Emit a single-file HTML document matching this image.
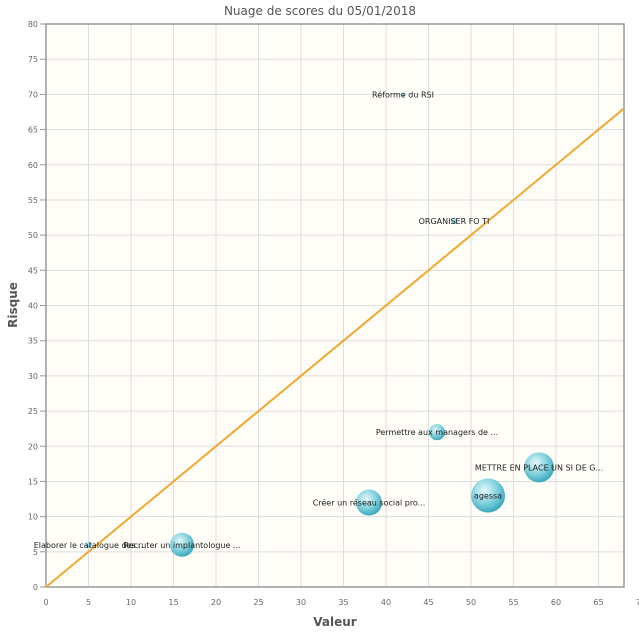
<!DOCTYPE html>
<html><head><meta charset="utf-8"><style>
body{margin:0;background:#fff;}
svg text{font-family:"DejaVu Sans","Liberation Sans",sans-serif;}
</style></head><body>
<svg width="639" height="632" id="chart">
<defs>
<radialGradient id="bub" cx="40%" cy="35%" r="65%">
<stop offset="0" stop-color="#e6f7fa"/><stop offset="0.6" stop-color="#7fd0dd"/><stop offset="1" stop-color="#3aa9bd"/>
</radialGradient>
</defs>
<text x="320" y="15" text-anchor="middle" font-size="12" fill="#555">Nuage de scores du 05/01/2018</text>
<rect x="46" y="24" width="578" height="563" fill="#fffdf8"/>
<g id="grid"></g>
<rect x="46" y="24" width="578" height="563" fill="none" stroke="#999" stroke-width="1.5"/>
<g id="marks"></g>
<text x="335" y="626" text-anchor="middle" font-size="12" font-weight="bold" fill="#555">Valeur</text>
<text transform="translate(17,305) rotate(-90)" text-anchor="middle" font-size="12" font-weight="bold" fill="#555">Risque</text>
</svg>
<script>
const labels=["Réforme du RSI","ORGANISER FO TI","Permettre aux managers de ...","METTRE EN PLACE UN SI DE G...","agessa","Créer un réseau social pro...","Recruter un implantologue ...","Elaborer le catalogue des..."];
const xVals=[42,48,46,58,52,38,16,5];
const yVals=[70,52,22,17,13,12,6,6];
const sizes=[2,3,8,15,17,13,12,3];
const xTicks=[0,5,10,15,20,25,30,35,40,45,50,55,60,65,70];
const yTicks=[0,5,10,15,20,25,30,35,40,45,50,55,60,65,70,75,80];
const lineEnd=68;
const NS="http://www.w3.org/2000/svg";
const X=v=>46+v*(578/68), Y=v=>587-v*(563/80);
function mk(t,a,p){const e=document.createElementNS(NS,t);for(const k in a)e.setAttribute(k,a[k]);p.appendChild(e);return e;}
const g=document.getElementById('grid'),m=document.getElementById('marks');
xTicks.forEach(t=>{
 if(t<=68){const l=mk('line',{x1:X(t),x2:X(t),y1:24,y2:587,stroke:'#ddd'},g);
 
 }
 const tx=mk('text',{x:X(t),y:605,'text-anchor':'middle','font-size':8,fill:'#666'},g);tx.textContent=t;
 
 
});
yTicks.forEach(t=>{
 const l=mk('line',{x1:46,x2:624,y1:Y(t),y2:Y(t),stroke:'#ddd'},g);
 
 
 mk('line',{x1:40,x2:46,y1:Y(t),y2:Y(t),stroke:'#999'},g);
 const tx=mk('text',{x:38,y:Y(t)+3,'text-anchor':'end','font-size':8,fill:'#666'},g);tx.textContent=t;
 
 
});
const ln=mk('line',{x1:X(0),y1:Y(0),x2:X(lineEnd),y2:Y(lineEnd),stroke:'#f0a830','stroke-width':2},m);


labels.forEach((lb,i)=>{
 const c=mk('circle',{cx:X(xVals[i]),cy:Y(yVals[i]),r:sizes[i],fill:'url(#bub)'},m);
 
 
});
labels.forEach((lb,i)=>{
 const t=mk('text',{x:X(xVals[i]),y:Y(yVals[i])+3,'text-anchor':'middle','font-size':8,fill:'#222'},m);t.textContent=lb;
 
 
});
</script>
</body></html>
